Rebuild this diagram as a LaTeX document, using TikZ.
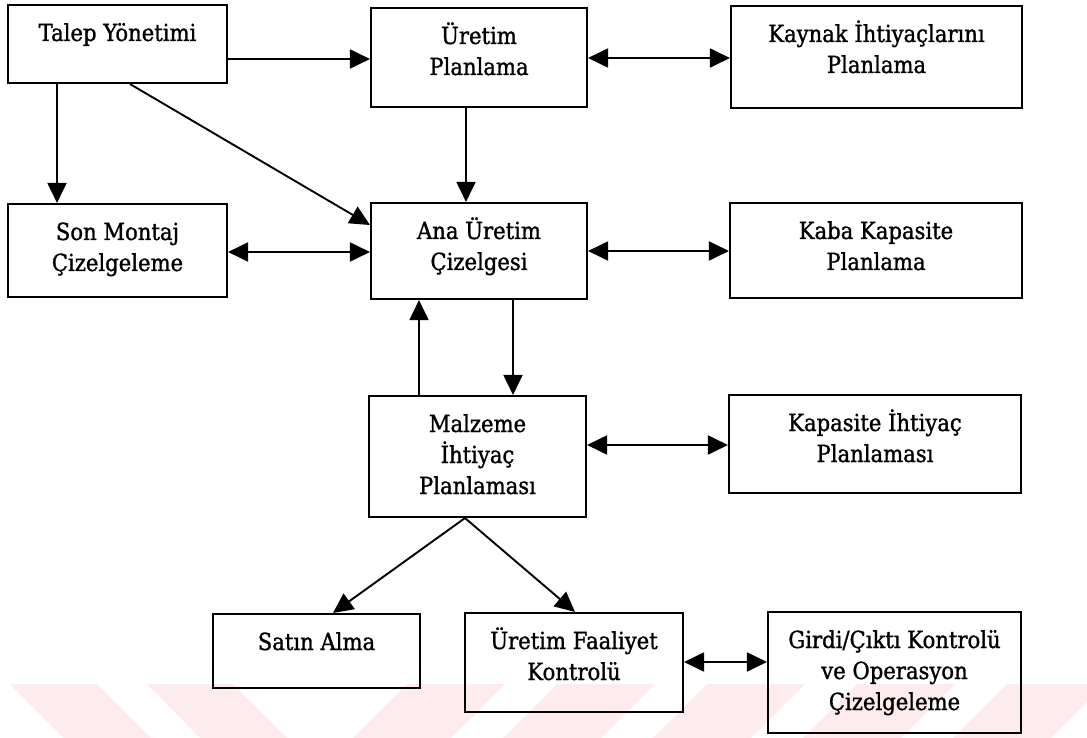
\documentclass[tikz,border=0pt]{standalone}
\usepackage{fontspec}
\setmainfont{DejaVu Serif}[FakeStretch=0.9,FakeBold=1.2]
\usetikzlibrary{arrows.meta,calc}
\definecolor{wmark}{HTML}{FDEBEE}
\tikzset{
  blk/.style={draw, line width=2.1pt, inner sep=0pt, font=\fontsize{23.5}{31}\selectfont},
  conn/.style={line width=1.9pt},
  tip/.style={-{Triangle[length=20pt,width=19pt]}},
  both/.style={{Triangle[length=20pt,width=19pt]}-{Triangle[length=20pt,width=19pt]}},
}
% fixed-size cell with its text set from the top
\newcommand\cellbox[3]{\parbox[c][#2][t]{#1}{\centering\rule{0pt}{36pt}#3\par}}
\begin{document}
\begin{tikzpicture}[x=1pt,y=-1pt]
\useasboundingbox (0,0) rectangle (1087,738);
% light striped band along the bottom edge
\begin{scope}
\clip (0,0) rectangle (1087,738);
\fill[wmark] (10,684) -- (97,684) -- (151,738) -- (64,738) -- cycle;
\fill[wmark] (147,684) -- (233,684) -- (287,738) -- (200,738) -- cycle;
\foreach \s in {407,557,707,857,1007}
  \fill[wmark] (\s,684) -- (\s+98,684) -- (\s+44,738) -- (\s-54,738) -- cycle;
\end{scope}

% blocks
\node[blk] (tal)  at (117.5,44)  {\cellbox{219pt}{78pt}{Talep Yönetimi}};
\node[blk] (upl)  at (479,57.5)  {\cellbox{216pt}{99pt}{Üretim\\Planlama}};
\node[blk] (kay)  at (876.5,57)  {\cellbox{291pt}{102pt}{Kaynak İhtiyaçlarını\\Planlama}};
\node[blk] (son)  at (117.5,250.5) {\cellbox{219pt}{93pt}{Son Montaj\\Çizelgeleme}};
\node[blk] (ana)  at (479,251)   {\cellbox{216pt}{96pt}{Ana Üretim\\Çizelgesi}};
\node[blk] (kaba) at (876,250.5) {\cellbox{292pt}{95pt}{Kaba Kapasite\\Planlama}};
\node[blk] (mrp)  at (477.5,456.5) {\cellbox{217pt}{121pt}{Malzeme\\İhtiyaç\\Planlaması}};
\node[blk] (kih)  at (875,444)   {\cellbox{292pt}{98pt}{Kapasite İhtiyaç\\Planlaması}};
\node[blk] (sat)  at (316.5,651) {\cellbox{207pt}{74pt}{Satın Alma}};
\node[blk] (ufk)  at (574,662.5) {\cellbox{218pt}{99pt}{Üretim Faaliyet\\Kontrolü}};
\node[blk] (gck)  at (894.5,672.5) {\cellbox{253pt}{121pt}{Girdi/Çıktı Kontrolü\\ve Operasyon\\Çizelgeleme}};

% connectors
\draw[conn,tip]  (tal.east |- 0,59) -- (upl.west |- 0,59);
\draw[conn,tip]  (tal.south -| 57,0) -- (son.north -| 57,0);
\draw[conn,tip]  (tal.south -| 130,0) -- (ana.west |- 0,225);
\draw[conn,tip]  (upl.south -| 466,0) -- (ana.north -| 466,0);
\draw[conn,both] (upl.east |- 0,58) -- (kay.west |- 0,58);
\draw[conn,both] (son.east |- 0,252) -- (ana.west |- 0,252);
\draw[conn,both] (ana.east |- 0,251) -- (kaba.west |- 0,251);
\draw[conn,tip]  (ana.south -| 513,0) -- (mrp.north -| 513,0);
\draw[conn,tip]  (mrp.north -| 419,0) -- (ana.south -| 419,0);
\draw[conn,both] (mrp.east |- 0,445) -- (kih.west |- 0,445);
\draw[conn,tip]  (mrp.south -| 465,0) -- (sat.north -| 333,0);
\draw[conn,tip]  (mrp.south -| 465,0) -- (ufk.north -| 575,0);
\draw[conn,both] (ufk.east |- 0,662) -- (gck.west |- 0,662);
\end{tikzpicture}
\end{document}
